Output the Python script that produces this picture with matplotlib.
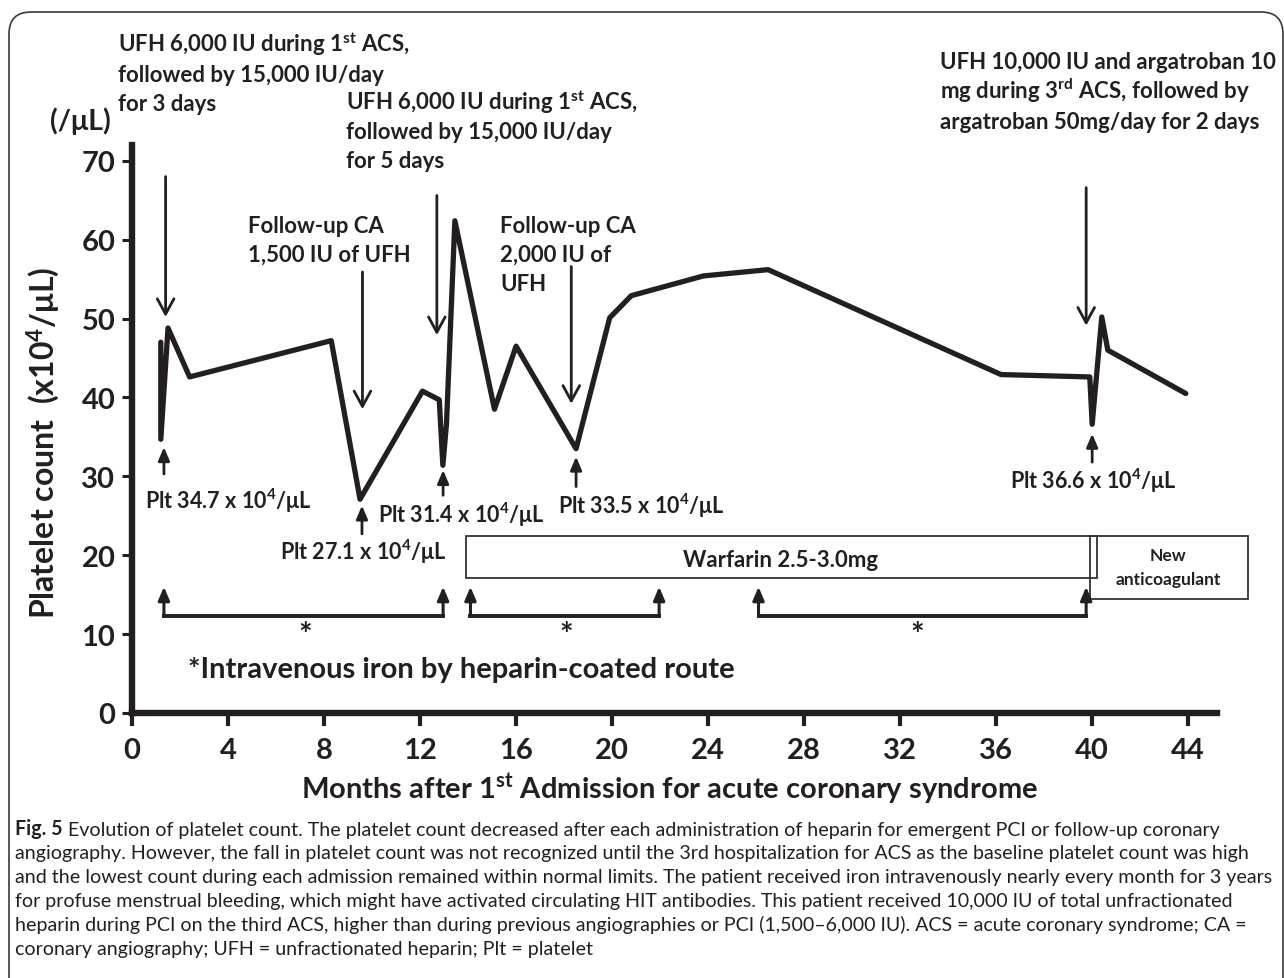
import matplotlib
matplotlib.use('Agg')
import matplotlib.pyplot as plt
from matplotlib.patches import FancyBboxPatch, Rectangle

# ---------------- data ----------------
months = [1.2, 1.2, 1.5, 2.4, 8.3, 9.5, 12.1, 12.8, 12.95, 13.1, 13.45, 15.1, 16.0,
          18.5, 19.9, 20.8, 23.8, 26.5, 36.2, 39.9, 40.0, 40.4, 40.65, 43.9]
platelets = [47.0, 34.7, 48.8, 42.6, 47.2, 27.1, 40.8, 39.7, 31.4, 36.6, 62.4, 38.5, 46.5,
             33.5, 50.1, 52.9, 55.4, 56.2, 42.9, 42.6, 36.6, 50.2, 46.0, 40.5]

x_ticks = [0, 4, 8, 12, 16, 20, 24, 28, 32, 36, 40, 44]
y_ticks = [0, 10, 20, 30, 40, 50, 60, 70]

# heparin arrows (down): x, tail y, tip y
hep_x = [1.4, 9.6, 12.7, 18.3, 39.75]
hep_tail = [68.0, 55.9, 65.6, 56.6, 66.6]
hep_tip = [50.2, 38.5, 47.9, 39.2, 49.1]

# nadir arrows (up): x, tail y, tip y
nadir_x = [1.33, 9.58, 12.96, 18.5, 40.0]
nadir_tail = [30.3, 22.7, 27.6, 28.7, 31.8]
nadir_tip = [33.7, 26.3, 30.8, 32.5, 35.4]

# iron brackets: start, end months
iron_start = [1.33, 14.1, 26.1]
iron_end = [12.96, 21.96, 39.75]
iron_base = 12.3
iron_tip = 16.0

# anticoagulant periods
warf_x = (13.9, 40.2)
warf_y = (17.1, 22.4)
new_x = (39.9, 46.5)
new_y = (14.5, 22.4)

W, H = 1284, 979
INK = '#231f20'

plt.rcParams['font.family'] = ['Lato', 'DejaVu Sans']
plt.rcParams['mathtext.fontset'] = 'custom'
plt.rcParams['mathtext.rm'] = 'Lato:bold'
plt.rcParams['mathtext.bf'] = 'Lato:bold'
plt.rcParams['mathtext.default'] = 'rm'

fig = plt.figure(figsize=(W / 100, H / 100), dpi=100)
ax = fig.add_axes([132 / W, 1 - 714 / H, (1217 - 132) / W, (714 - 146) / H])

ax.plot(months, platelets, color=INK, lw=3.8, solid_joinstyle='round', solid_capstyle='round', zorder=3)

ax.set_xlim(0, 45.2)
ax.set_ylim(0, 72)
ax.set_xticks(x_ticks)
ax.set_yticks(y_ticks)
for s in ['top', 'right']:
    ax.spines[s].set_visible(False)
for s in ['left', 'bottom']:
    ax.spines[s].set_linewidth(4.6)
    ax.spines[s].set_color(INK)
ax.tick_params(axis='x', length=9, width=3, color=INK, pad=8, labelsize=21, labelcolor=INK)
ax.tick_params(axis='y', length=7, width=2.2, color=INK, pad=5, labelsize=21, labelcolor=INK)
for lab in ax.get_xticklabels() + ax.get_yticklabels():
    lab.set_fontweight('bold')

# heparin down arrows
for x, t0, t1 in zip(hep_x, hep_tail, hep_tip):
    ax.annotate('', xy=(x, t1), xytext=(x, t0),
                arrowprops=dict(arrowstyle='->,head_length=0.55,head_width=0.3', lw=2.0,
                                color=INK, shrinkA=0, shrinkB=0, mutation_scale=20),
                annotation_clip=False)

# nadir up arrows
for x, t0, t1 in zip(nadir_x, nadir_tail, nadir_tip):
    ax.annotate('', xy=(x, t1), xytext=(x, t0),
                arrowprops=dict(arrowstyle='-|>,head_length=0.4,head_width=0.17', lw=2.0,
                                color=INK, shrinkA=0, shrinkB=0, mutation_scale=20),
                annotation_clip=False)

# iron brackets
for a, b in zip(iron_start, iron_end):
    ax.plot([a, b], [iron_base, iron_base], color=INK, lw=2.8, solid_capstyle='projecting')
    for x in (a, b):
        ax.annotate('', xy=(x, iron_tip), xytext=(x, iron_base),
                    arrowprops=dict(arrowstyle='-|>,head_length=0.4,head_width=0.17', lw=2.2,
                                    color=INK, shrinkA=0, shrinkB=0, mutation_scale=20),
                    annotation_clip=False)

# anticoagulant boxes
ax.add_patch(Rectangle((warf_x[0], warf_y[0]), warf_x[1] - warf_x[0], warf_y[1] - warf_y[0],
                       fill=False, ec='#333333', lw=1.3, clip_on=False))
ax.add_patch(Rectangle((new_x[0], new_y[0]), new_x[1] - new_x[0], new_y[1] - new_y[0],
                       fill=False, ec='#333333', lw=1.3, clip_on=False))


def ftext(px, py, s, **kw):
    kw.setdefault('fontweight', 'bold')
    kw.setdefault('color', INK)
    kw.setdefault('va', 'baseline')
    return fig.text(px / W, 1 - py / H, s, **kw)


A = 16
P = 15.5
ftext(118, 52, 'UFH 6,000 IU during 1$^{st}$ ACS,', fontsize=A)
ftext(118, 82, 'followed by 15,000 IU/day', fontsize=A)
ftext(118, 111, 'for 3 days', fontsize=A)
ftext(50, 130, '(/μL)', fontsize=20.5)

ftext(346, 110, 'UFH 6,000 IU during 1$^{st}$ ACS,', fontsize=A)
ftext(346, 139, 'followed by 15,000 IU/day', fontsize=A)
ftext(346, 168, 'for 5 days', fontsize=A)

ftext(940, 69, 'UFH 10,000 IU and argatroban 10', fontsize=A)
ftext(940, 99, 'mg during 3$^{rd}$ ACS, followed by', fontsize=A)
ftext(940, 129, 'argatroban 50mg/day for 2 days', fontsize=A)

ftext(248, 233, 'Follow-up CA', fontsize=A)
ftext(248, 262, '1,500 IU of UFH', fontsize=A)
ftext(500, 233, 'Follow-up CA', fontsize=A)
ftext(500, 262, '2,000 IU of', fontsize=A)
ftext(500, 291, 'UFH', fontsize=A)

ftext(145, 509, 'Plt 34.7 x 10$^4$/μL', fontsize=P)
ftext(280, 560, 'Plt 27.1 x 10$^4$/μL', fontsize=P)
ftext(378, 523, 'Plt 31.4 x 10$^4$/μL', fontsize=P)
ftext(558, 514, 'Plt 33.5 x 10$^4$/μL', fontsize=P)
ftext(1010, 489, 'Plt 36.6 x 10$^4$/μL', fontsize=P)

ftext(781, 567, 'Warfarin 2.5-3.0mg', fontsize=16, ha='center')
ftext(1168, 561, 'New', fontsize=12.5, ha='center')
ftext(1168, 585, 'anticoagulant', fontsize=12.5, ha='center')

for px in (305, 566, 917):
    ftext(px, 646, '*', fontsize=23, ha='center')
ftext(188, 678, '*Intravenous iron by heparin-coated route', fontsize=21)

ftext(670, 799, 'Months after 1$^{st}$ Admission for acute coronary syndrome', fontsize=21, ha='center')
fig.text(43 / W, 1 - 443 / H, 'Platelet count  (x10$^4$/μL)', fontsize=23, fontweight='bold',
         color=INK, rotation=90, ha='center', va='center')

# caption
cap_lines = [
    'Evolution of platelet count. The platelet count decreased after each administration of heparin for emergent PCI or follow-up coronary',
    'angiography. However, the fall in platelet count was not recognized until the 3rd hospitalization for ACS as the baseline platelet count was high',
    'and the lowest count during each admission remained within normal limits. The patient received iron intravenously nearly every month for 3 years',
    'for profuse menstrual bleeding, which might have activated circulating HIT antibodies. This patient received 10,000 IU of total unfractionated',
    'heparin during PCI on the third ACS, higher than during previous angiographies or PCI (1,500\u20136,000 IU). ACS = acute coronary syndrome; CA =',
    'coronary angiography; UFH = unfractionated heparin; Plt = platelet',
]
CAP = 14.1
fam = ['Lato', 'DejaVu Sans']
fig5 = fig.text(15 / W, 1 - 835 / H, 'Fig. 5', fontsize=CAP, fontweight='bold', color=INK,
                va='baseline', family=fam)
ax.annotate(' ' + cap_lines[0], xy=(1, 0), xycoords=fig5, va='bottom', ha='left',
            fontsize=CAP, color=INK, family=fam, annotation_clip=False)
for i, line in enumerate(cap_lines[1:], start=1):
    fig.text(15 / W, 1 - (835 + 24 * i) / H, line, fontsize=CAP, color=INK, va='baseline',
             family=fam)

# rounded frame
frame = FancyBboxPatch((9, -40), 1274, 1006, boxstyle='round,pad=0,rounding_size=22',
                       transform=None, fill=False, ec='#3a3a3a', lw=1.2)
fig.patches.append(frame)

fig.savefig('out.png', dpi=100)
